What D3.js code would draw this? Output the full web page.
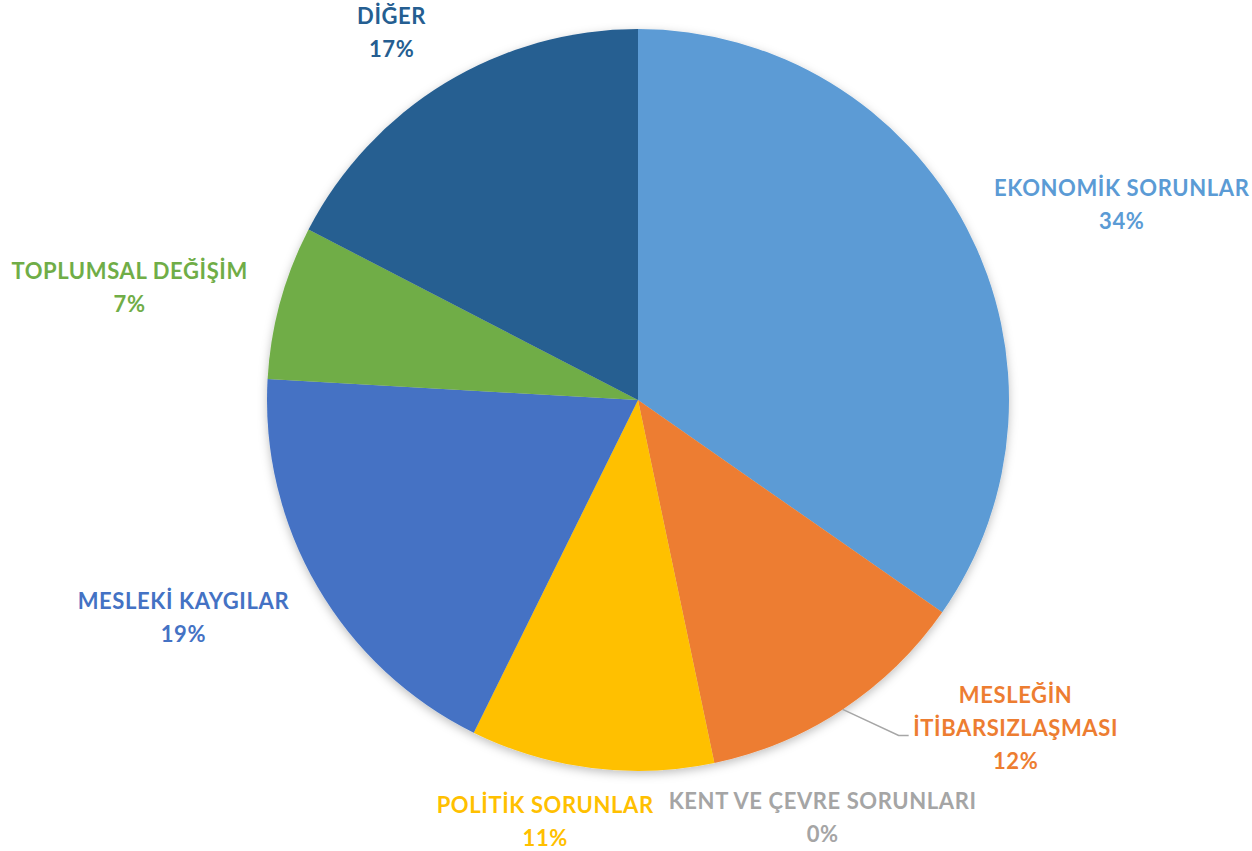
<!DOCTYPE html>
<html>
<head>
<meta charset="utf-8">
<script src="https://cdn.jsdelivr.net/npm/d3@7"></script>
<style>
  body { margin: 0; background: #fff; }
  svg { display: block; }
  .lbl { font-family: Lato, "Open Sans", sans-serif; font-weight: 700; font-size: 22px; letter-spacing: 0.6px; }
</style>
</head>
<body>
<div id="chart"></div>
<script>
// category names (label lines), values and colours, clockwise from 12 o'clock
var categories = [
  ["EKONOMİK SORUNLAR"],
  ["MESLEĞİN", "İTİBARSIZLAŞMASI"],
  ["KENT VE ÇEVRE SORUNLARI"],
  ["POLİTİK SORUNLAR"],
  ["MESLEKİ KAYGILAR"],
  ["TOPLUMSAL DEĞİŞİM"],
  ["DİĞER"]
];
var values = [34.7, 12.0, 0.0, 10.6, 18.6, 6.7, 17.4];
var percentLabels = ["34%", "12%", "0%", "11%", "19%", "7%", "17%"];
var colors = ["#5B9BD5", "#ED7D31", "#A5A5A5", "#FFC000", "#4472C4", "#70AD47", "#255E91"];

function drawPie(elementId) {
  var width = 1252;
  var height = 851;
  var radius = 371;
  var cx = 638, cy = 400;

  var svg = d3
    .select(elementId)
    .append("svg")
    .attr("width", width)
    .attr("height", height);

  var defs = svg.append("defs");
  var filter = defs.append("filter")
    .attr("id", "shadow")
    .attr("x", "-10%").attr("y", "-10%")
    .attr("width", "120%").attr("height", "120%");
  filter.append("feDropShadow")
    .attr("dx", 0).attr("dy", 3)
    .attr("stdDeviation", 5)
    .attr("flood-color", "#000")
    .attr("flood-opacity", 0.25);

  var g = svg.append("g").attr("transform", "translate(" + cx + "," + cy + ")");

  var data = values.map(function (v, i) {
    return { name: categories[i], value: v, pct: percentLabels[i], color: colors[i] };
  });

  var pie = d3.pie().sort(null).value(function (d) { return d.value; });
  var arcs = pie(data);
  var arc = d3.arc().innerRadius(0).outerRadius(radius);
  var outerArc = d3.arc().innerRadius(radius * 1.2).outerRadius(radius * 1.2);

  g.append("g")
    .attr("filter", "url(#shadow)")
    .selectAll("path")
    .data(arcs)
    .enter()
    .append("path")
    .attr("d", arc)
    .attr("fill", function (d) { return d.data.color; });

  // label nudges from the outer-arc centroid (Excel "best fit" placement)
  var nudge = [[89, 11], [132, -43], [93, -18], [-37, -20], [-70, -6], [-79, 5], [-15, 13]];
  var lineH = 33;

  // leader line for the orange slice
  var a1 = arcs[1];
  var mid = (a1.startAngle + a1.endAngle) / 2;
  var p0 = [Math.sin(mid) * radius, -Math.cos(mid) * radius];
  g.append("polyline")
    .attr("points", [p0, [p0[0] + 56, p0[1] + 26], [p0[0] + 66, p0[1] + 26]].map(function (p) { return p.join(","); }).join(" "))
    .attr("fill", "none")
    .attr("stroke", "#A6A6A6")
    .attr("stroke-width", 1.5);

  arcs.forEach(function (d, i) {
    var c = outerArc.centroid(d);
    var x = c[0] + nudge[i][0];
    var y = c[1] + nudge[i][1];
    var lines = d.data.name.concat([d.data.pct]);
    var top = y - (lines.length - 1) * lineH / 2;
    var t = g.append("text")
      .attr("class", "lbl")
      .attr("text-anchor", "middle")
      .attr("fill", d.data.color);
    lines.forEach(function (s, k) {
      t.append("tspan")
        .attr("x", x)
        .attr("y", top + k * lineH)
        .attr("dy", "0.35em")
        .text(s);
    });
  });
}

drawPie("#chart");
</script>
</body>
</html>
